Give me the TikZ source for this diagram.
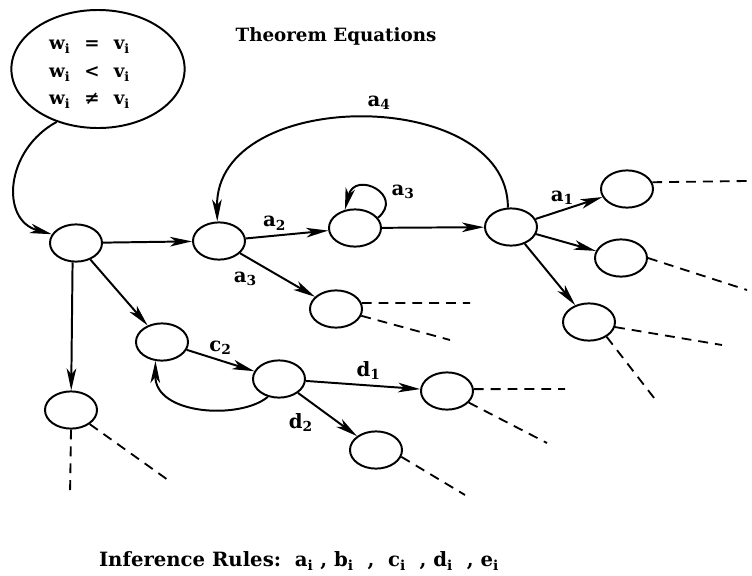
\documentclass[tikz,border=0pt]{standalone}
\usepackage{fontspec}
\setmainfont{DejaVu Serif}
\usetikzlibrary{shapes.geometric,arrows.meta}
\newcommand{\lbl}[2]{#1\textsubscript{#2}}
\tikzset{
  vertex/.style={ellipse, draw, line width=1.4pt, minimum width=1.3cm, minimum height=0.93cm, inner sep=0pt},
  trans/.style={line width=1.4pt, -{Stealth[length=5.5mm,width=2.4mm,inset=1.5mm]}},
  dangling/.style={line width=1.3pt, dash pattern=on 7pt off 5pt},
  lab/.style={font=\fontsize{13}{15}\selectfont\bfseries},
  elab/.style={font=\fontsize{14}{16}\selectfont\bfseries}
}
\begin{document}
\begin{tikzpicture}[x=0.025cm, y=-0.025cm]
\useasboundingbox (0,0) rectangle (752,575);

% theorem equations
\node[draw, ellipse, line width=1.4pt, minimum width=4.33cm, minimum height=2.95cm, inner sep=0pt] (eq) at (98,69) {};
\node[lab, xshift=-6pt, yshift=-2pt] (eqtext) at (eq)
  {\renewcommand{\arraystretch}{1.3}\begin{tabular}{@{}l@{\hspace{10pt}}c@{\hspace{10pt}}l@{}}
   \lbl{w}{i} & = & \lbl{v}{i}\\
   \lbl{w}{i} & < & \lbl{v}{i}\\
   \lbl{w}{i} & ≠ & \lbl{v}{i}
   \end{tabular}};
\node[lab] (title) at (336,36) {Theorem Equations};

% states
\node[vertex] (n1) at (76,243) {};
\node[vertex] (n2) at (219,241) {};
\node[vertex] (n3) at (355,228) {};
\node[vertex] (n4) at (511,227) {};
\node[vertex] (n5) at (627,189) {};
\node[vertex] (n6) at (621,258) {};
\node[vertex] (n7) at (589,322) {};
\node[vertex] (n8) at (336,309) {};
\node[vertex] (n9) at (162,342) {};
\node[vertex] (n10) at (279,379) {};
\node[vertex] (n11) at (447,391) {};
\node[vertex] (n12) at (376,450) {};
\node[vertex] (n13) at (71,410) {};

% transitions
\draw[trans] (eq.232) .. controls (5,150) and (0,220) .. (n1.160);
\draw[trans] (n1) -- (n2);
\draw[trans] (n1.260) -- (n13);
\draw[trans] (n1) -- (n9);
\draw[trans] (n2) -- (n3) node[elab, pos=0.35, above] {\lbl{a}{2}};
\draw[trans] (n2) -- (n8) node[elab, pos=0.3, below left] {\lbl{a}{3}};
\draw[trans] (n3.24) .. controls (405,195) and (355,170) .. (n3.119)
  node[elab, pos=0.2, above right] {\lbl{a}{3}};
\draw[trans] (n3) -- (n4);
\draw[trans] (n4.99) .. controls (508,86) and (215,86) .. (n2.95)
  node[elab, pos=0.46, above=2pt] {\lbl{a}{4}};
\draw[trans] (n4) -- (n5) node[elab, pos=0.4, above] {\lbl{a}{1}};
\draw[trans] (n4) -- (n6);
\draw[trans] (n4) -- (n7);
\draw[trans] (n9) -- (n10) node[elab, midway, above] {\lbl{c}{2}};
\draw[trans] (n10.238) .. controls (240,420) and (155,415) .. (n9.251);
\draw[trans] (n10) -- (n11) node[elab, pos=0.55, above] {\lbl{d}{1}};
\draw[trans] (n10) -- (n12) node[elab, pos=0.35, below left] {\lbl{d}{2}};

% open branches
\coordinate (t5) at (747,181);
\coordinate (t6) at (747,290);
\coordinate (t7a) at (722,345);
\coordinate (t7b) at (658,403);
\coordinate (t8a) at (470,303);
\coordinate (t8b) at (450,340);
\coordinate (t11a) at (565,389);
\coordinate (t11b) at (547,443);
\coordinate (t12) at (465,495);
\coordinate (t13a) at (70,495);
\coordinate (t13b) at (168,480);
\foreach \s/\a/\t in {n5/15/t5, n6/0/t6, n7/-11/t7a, n7/-40/t7b, n8/13/t8a, n8/-15/t8b,
    n11/4/t11a, n11/-28/t11b, n12/-15/t12, n13/-90/t13a, n13/-37/t13b}
  \draw[dangling] (\s.\a) -- (\t);

\node[elab] (rules) at (299,561) {Inference Rules:\ \ \lbl{a}{i}\ , \lbl{b}{i}\ \ ,\ \ \lbl{c}{i}\ \ , \lbl{d}{i}\ \ , \lbl{e}{i}};
\end{tikzpicture}
\end{document}
